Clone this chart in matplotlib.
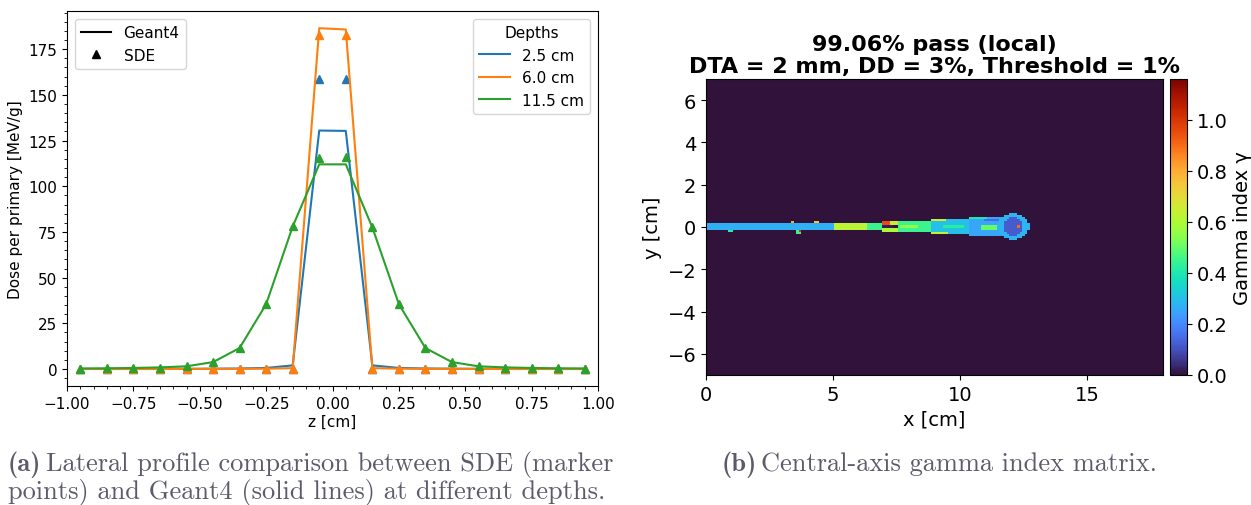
import numpy as np
import matplotlib.pyplot as plt
from matplotlib.lines import Line2D
from matplotlib.ticker import AutoMinorLocator

# ---- (a) lateral profiles ----
z_cm = [-0.95, -0.85, -0.75, -0.65, -0.55, -0.45, -0.35, -0.25, -0.15, -0.05,
        0.05, 0.15, 0.25, 0.35, 0.45, 0.55, 0.65, 0.75, 0.85, 0.95]
depth_labels = ['2.5 cm', '6.0 cm', '11.5 cm']
depth_colors = ['#1f77b4', '#ff7f0e', '#2ca02c']

geant4_2p5 = [0.1, 0.1, 0.1, 0.1, 0.1, 0.2, 0.3, 0.6, 2.0, 130.5,
              130.3, 2.0, 0.6, 0.3, 0.2, 0.1, 0.1, 0.1, 0.1, 0.1]
geant4_6p0 = [0.0, 0.0, 0.0, 0.0, 0.1, 0.1, 0.1, 0.2, 0.5, 186.5,
              185.8, 0.5, 0.2, 0.1, 0.1, 0.1, 0.0, 0.0, 0.0, 0.0]
geant4_11p5 = [0.3, 0.4, 0.6, 0.9, 1.5, 3.8, 11.5, 35.5, 78.0, 112.0,
               112.0, 77.5, 35.5, 11.5, 3.8, 1.5, 0.9, 0.6, 0.4, 0.3]

sde_2p5 = [0.0, 0.0, 0.0, 0.0, 0.0, 0.0, 0.0, 0.0, 0.0, 158.5,
           158.5, 0.0, 0.0, 0.0, 0.0, 0.0, 0.0, 0.0, 0.0, 0.0]
sde_6p0 = [0.0, 0.0, 0.0, 0.0, 0.0, 0.0, 0.0, 0.0, 0.0, 182.8,
           182.8, 0.0, 0.0, 0.0, 0.0, 0.0, 0.0, 0.0, 0.0, 0.0]
sde_11p5 = [0.2, 0.3, 0.5, 0.8, 1.4, 3.7, 11.5, 35.8, 78.5, 115.5,
            115.8, 77.5, 35.5, 11.5, 3.7, 1.4, 0.8, 0.5, 0.3, 0.2]

# ---- (b) gamma map: rectangles (x0, x1, y0, y1, gamma), painted in order ----
rect_x0 = [0.0, 5.1, 6.4, 7.0, 7.0, 7.0, 7.0, 7.6, 7.7, 8.85, 8.85, 8.9, 9.4, 10.4, 10.4, 10.9, 11.0,
           0.9, 3.35, 3.6, 3.65, 4.3]
rect_x1 = [7.0, 6.4, 6.95, 7.6, 7.2, 7.6, 7.35, 8.85, 8.3, 10.4, 9.4, 9.5, 10.2, 11.9, 11.0, 11.6, 11.5,
           1.0, 3.45, 3.8, 3.75, 4.4]
rect_y0 = [-0.11, -0.11, -0.11, 0.09, 0.09, -0.21, -0.05, -0.25, -0.05, -0.31, 0.25, -0.31, -0.05, -0.45, 0.35, -0.11, 0.25,
           -0.25, 0.15, -0.31, -0.25, 0.15]
rect_y1 = [0.11, 0.11, 0.11, 0.21, 0.21, -0.09, 0.05, 0.25, 0.05, 0.31, 0.31, -0.25, 0.05, 0.45, 0.45, 0.05, 0.35,
           -0.15, 0.25, -0.15, -0.15, 0.25]
rect_gamma = [0.27, 0.62, 0.45, 0.65, 0.95, 0.60, 0.02, 0.45, 0.55, 0.30, 0.65, 0.62, 0.42, 0.25, 0.40, 0.50, 0.15,
              0.42, 0.80, 0.45, 1.00, 0.75]

# ellipses (cx, cy, rx, ry, gamma) for the distal blob
ell_cx = [12.1, 12.1, 12.3]
ell_cy = [0.0, 0.0, 0.0]
ell_rx = [0.62, 0.36, 0.06]
ell_ry = [0.62, 0.42, 0.06]
ell_gamma = [0.28, 0.12, 0.90]

grid_x = np.arange(0, 181) * 0.1
grid_y = np.arange(-70, 71) * 0.1
gamma_map = np.zeros((len(grid_y), len(grid_x)))
for x0, x1, y0, y1, g in zip(rect_x0, rect_x1, rect_y0, rect_y1, rect_gamma):
    mx = (grid_x >= x0) & (grid_x <= x1)
    my = (grid_y >= y0) & (grid_y <= y1)
    gamma_map[np.ix_(my, mx)] = g
gx, gy = np.meshgrid(grid_x, grid_y)
for cx, cy, rx, ry, g in zip(ell_cx, ell_cy, ell_rx, ell_ry, ell_gamma):
    inside = ((gx - cx) / rx) ** 2 + ((gy - cy) / ry) ** 2 <= 1.0
    gamma_map[inside] = g

fig = plt.figure(figsize=(12.51, 5.06), dpi=100)

ax1 = fig.add_axes([0.0536, 0.235, 0.4244, 0.741])
geant_sets = [geant4_2p5, geant4_6p0, geant4_11p5]
sde_sets = [sde_2p5, sde_6p0, sde_11p5]
for g4, sde, lab, col in zip(geant_sets, sde_sets, depth_labels, depth_colors):
    ax1.plot(z_cm, g4, color=col, lw=1.5, label=lab)
    ax1.plot(z_cm, sde, '^', color=col, ms=6, ls='none')
ax1.set_xlim(-1, 1)
ax1.set_xlabel('z [cm]', fontsize=11, labelpad=2)
ax1.set_ylabel('Dose per primary [MeV/g]', fontsize=11)
ax1.xaxis.set_minor_locator(AutoMinorLocator())
ax1.yaxis.set_minor_locator(AutoMinorLocator())
ax1.tick_params(labelsize=11)

type_handles = [Line2D([], [], color='black', lw=1.5, label='Geant4'),
                Line2D([], [], color='black', marker='^', ls='none', ms=6, label='SDE')]
leg1 = ax1.legend(handles=type_handles, loc='upper left', fontsize=11)
ax1.add_artist(leg1)
ax1.legend(loc='upper right', title='Depths', fontsize=11, title_fontsize=11)

ax2 = fig.add_axes([0.5644, 0.257, 0.3653, 0.585])
im = ax2.imshow(gamma_map, cmap='turbo', vmin=0, vmax=1.16, origin='lower',
                extent=[-0.05, 18.05, -7.05, 7.05], aspect='auto', interpolation='nearest')
ax2.set_xlim(0, 18)
ax2.set_ylim(-7, 7)
ax2.set_xticks([0, 5, 10, 15])
ax2.set_yticks([-6, -4, -2, 0, 2, 4, 6])
ax2.tick_params(labelsize=14)
ax2.set_xlabel('x [cm]', fontsize=14)
ax2.set_ylabel('y [cm]', fontsize=14)
ax2.set_title('99.06% pass (local)\nDTA = 2 mm, DD = 3%, Threshold = 1%',
              fontsize=16, fontweight='bold', linespacing=1.15, pad=5)

cax = fig.add_axes([0.935, 0.257, 0.014, 0.585])
cb = fig.colorbar(im, cax=cax)
cb.set_ticks([0.0, 0.2, 0.4, 0.6, 0.8, 1.0])
cb.ax.tick_params(labelsize=14)
cb.set_label('Gamma index \u03b3', fontsize=14)

cap_color = '#5b5b6b'
cap_size = 19
fig.text(0.006, 0.069, '(a)', family='cmb10', fontsize=cap_size, color=cap_color)
fig.text(0.037, 0.069, 'Lateral profile comparison between SDE (marker',
         family='cmr10', fontsize=cap_size, color=cap_color)
fig.text(0.006, 0.013, 'points) and Geant4 (solid lines) at different depths.',
         family='cmr10', fontsize=cap_size, color=cap_color)
fig.text(0.577, 0.069, '(b)', family='cmb10', fontsize=cap_size, color=cap_color)
fig.text(0.608, 0.069, 'Central-axis gamma index matrix.',
         family='cmr10', fontsize=cap_size, color=cap_color)

fig.savefig('out.png', dpi=100)
